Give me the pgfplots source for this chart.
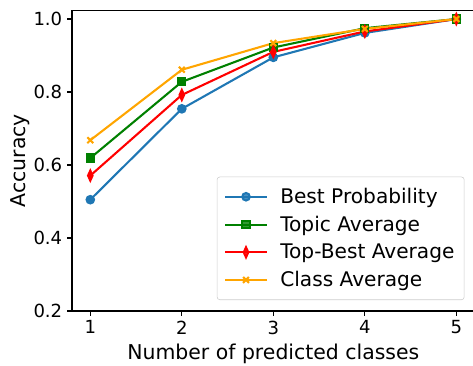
\documentclass[border=0pt]{standalone}
\usepackage{pgfplots}
\pgfplotsset{compat=1.18}
\usepackage{fontspec}
\setmainfont{DejaVu Sans}
\definecolor{cblue}{HTML}{1F77B4}
\definecolor{cgreen}{HTML}{008000}
\definecolor{cred}{HTML}{FF0000}
\definecolor{corange}{HTML}{FFA500}
\begin{document}
\begin{tikzpicture}
\useasboundingbox (-51.84pt,-38.88pt) rectangle ++(340.56pt,262.8pt);
\clip (-51.84pt,-38.88pt) rectangle ++(340.56pt,262.8pt);
\begin{axis}[
  at={(0,0)}, anchor=south west, scale only axis,
  width=289.9pt, height=216.4pt,
  xmin=0.8, xmax=5.2, ymin=0.2, ymax=1.0236,
  xtick={1,2,3,4,5},
  ytick={0.2,0.4,0.6,0.8,1.0},
  yticklabel style={/pgf/number format/.cd, fixed, fixed zerofill, precision=1},
  /pgf/number format/assume math mode=true,
  tick align=outside, tick pos=left,
  major tick length=3.5pt,
  every tick/.style={black, line width=0.8pt},
  axis line style={line width=0.8pt},
  ticklabel style={font=\fontsize{13}{15}\selectfont},
  label style={font=\fontsize{14.7}{17}\selectfont},
  ylabel style={yshift=-4pt},
  xlabel={Number of predicted classes},
  ylabel={Accuracy},
  legend style={at={(1,0)}, anchor=south east, xshift=-7.3pt, yshift=7.9pt,
    draw=white!80!black, rounded corners=2pt, fill=white, fill opacity=0.8, text opacity=1,
    font=\fontsize{14.5}{17}\selectfont, row sep=3.6pt, inner xsep=5pt, inner ysep=6pt},
  legend cell align=left,
  legend image code/.code={\draw[mark repeat=2, mark phase=2] plot coordinates {(0cm,0cm) (0.53cm,0cm) (1.06cm,0cm)};\path (1.3cm,0cm);},
]
\addplot[cblue, line width=1.5pt, mark=*, mark size=2.7pt, mark options={solid}] coordinates {(1,0.505) (2,0.754) (3,0.895) (4,0.962) (5,1.0)};
\addlegendentry{Best Probability}
\addplot[cgreen, line width=1.5pt, mark=square*, mark size=2.6pt] coordinates {(1,0.619) (2,0.828) (3,0.922) (4,0.975) (5,1.0)};
\addlegendentry{Topic Average}
\addplot[cred, line width=1.5pt, mark=diamond*, mark size=3.6pt, mark options={xscale=0.6}] coordinates {(1,0.571) (2,0.792) (3,0.910) (4,0.966) (5,1.0)};
\addlegendentry{Top-Best Average}
\addplot[corange, line width=1.5pt, mark=x, mark size=3pt] coordinates {(1,0.668) (2,0.861) (3,0.934) (4,0.973) (5,1.0)};
\addlegendentry{Class Average}
\end{axis}
\end{tikzpicture}
\end{document}
